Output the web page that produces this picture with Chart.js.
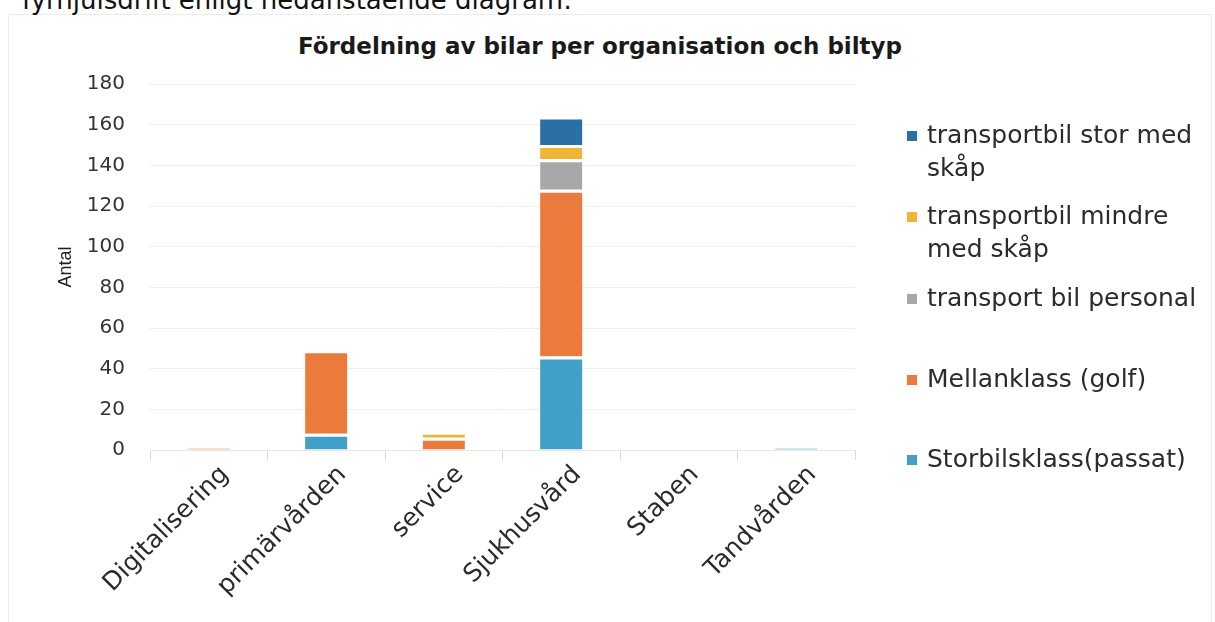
<!DOCTYPE html>
<html lang="sv">
<head>
    <meta charset="UTF-8">
    <title>Fördelning av bilar</title>
    <script src="https://cdn.jsdelivr.net/npm/chart.js"></script>
    <style>
        body {
            margin: 0;
            padding: 0;
            background: white;
            width: 1215px;
            height: 622px;
            overflow: hidden;
            position: relative;
            font-family: "DejaVu Sans", sans-serif;
        }
        #intro {
            position: absolute;
            left: 22px;
            top: -15px;
            font-size: 26px;
            color: #111;
            white-space: nowrap;
        }
        #frame {
            position: absolute;
            left: 8px;
            top: 14px;
            width: 1202px;
            height: 620px;
            border: 1px solid #ececec;
        }
        #title {
            position: absolute;
            left: 0;
            top: 33px;
            width: 1200px;
            text-align: center;
            font-size: 23px;
            font-weight: bold;
            color: #1a1a1a;
            white-space: nowrap;
        }
        #wrap {
            position: absolute;
            left: 0;
            top: 0;
            width: 1215px;
            height: 622px;
        }
    </style>
</head>
<body>

<div id="frame"></div>
<div id="intro">fyrhjulsdrift enligt nedanstående diagram:</div>
<div id="title">Fördelning av bilar per organisation och biltyp</div>
<div id="wrap"><canvas id="bilChart" width="1215" height="622"></canvas></div>

<script>
    // organisationer
    const categories = ['Digitalisering', 'primärvården', 'service', 'Sjukhusvård', 'Staben', 'Tandvården'];

    // antal bilar per biltyp (nerifrån och upp i stapeln)
    const storbilsklass   = [0, 8, 0, 46, 0, 1];
    const mellanklass     = [1, 41, 6, 82, 0, 0];
    const transportPers   = [0, 0, 0, 15, 0, 0];
    const transportMindre = [0, 0, 3, 7, 0, 0];
    const transportStor   = [0, 0, 0, 14, 0, 0];

    const seriesNames = [
        'Storbilsklass(passat)',
        'Mellanklass (golf)',
        'transport bil personal',
        'transportbil mindre\nmed skåp',
        'transportbil stor med\nskåp'
    ];
    const seriesColors = ['#41a0c7', '#ea7b3c', '#a8a8a8', '#f1b536', '#2a6fa6'];

    const yTicks = [0, 20, 40, 60, 80, 100, 120, 140, 160, 180];

    const seriesData = [storbilsklass, mellanklass, transportPers, transportMindre, transportStor];

    const datasets = seriesData.map((d, i) => ({
        label: seriesNames[i],
        data: d,
        backgroundColor: seriesColors[i],
        borderColor: '#ffffff',
        borderWidth: {top: 3, left: 0, right: 0, bottom: 0},
        borderSkipped: false,
        barPercentage: 0.36,
        categoryPercentage: 1.0
    }));

    // egen legend till höger, översta serien först
    const sideLegend = {
        id: 'sideLegend',
        afterDraw(chart) {
            const ctx = chart.ctx;
            const rowY = [136, 217, 299, 380, 460];
            ctx.save();
            ctx.font = '25px "DejaVu Sans", sans-serif';
            ctx.textBaseline = 'middle';
            ctx.textAlign = 'left';
            const order = chart.data.datasets.slice().reverse();
            order.forEach((ds, i) => {
                const y = rowY[i];
                ctx.fillStyle = ds.backgroundColor;
                ctx.fillRect(907, y - 5, 10, 10);
                ctx.fillStyle = '#2b2b2b';
                ds.label.split('\n').forEach((line, j) => {
                    ctx.fillText(line, 927, y + j * 33);
                });
            });
            ctx.restore();
        }
    };

    const ctx = document.getElementById('bilChart').getContext('2d');
    const bilChart = new Chart(ctx, {
        type: 'bar',
        data: {
            labels: categories,
            datasets: datasets
        },
        options: {
            responsive: false,
            animation: false,
            layout: {
                padding: {left: 0, right: 360, top: 84, bottom: 0}
            },
            plugins: {
                legend: {display: false},
                tooltip: {enabled: false},
                title: {display: false}
            },
            scales: {
                x: {
                    stacked: true,
                    offset: true,
                    afterFit(scale) { scale.height = 172; },
                    grid: {
                        offset: true,
                        drawOnChartArea: false,
                        color: '#d9d9d9',
                        tickLength: 10
                    },
                    border: {color: '#e6e6e6'},
                    ticks: {
                        minRotation: 45,
                        maxRotation: 45,
                        labelOffset: 16,
                        color: '#2b2b2b',
                        padding: 0,
                        font: {family: '"DejaVu Sans", sans-serif', size: 25}
                    }
                },
                y: {
                    stacked: true,
                    min: 0,
                    max: 180,
                    afterFit(scale) { scale.width = 150; },
                    afterBuildTicks(scale) {
                        scale.ticks = yTicks.map(v => ({value: v}));
                    },
                    grid: {
                        color: '#eeeeee',
                        drawTicks: false
                    },
                    border: {display: false},
                    ticks: {
                        color: '#333333',
                        padding: 25,
                        font: {family: '"DejaVu Sans", sans-serif', size: 20}
                    },
                    title: {
                        display: true,
                        text: 'Antal',
                        color: '#222222',
                        padding: {top: 55, bottom: 0},
                        font: {family: '"Liberation Sans Narrow", "Liberation Sans", sans-serif', size: 18}
                    }
                }
            }
        },
        plugins: [sideLegend]
    });
</script>

</body>
</html>
